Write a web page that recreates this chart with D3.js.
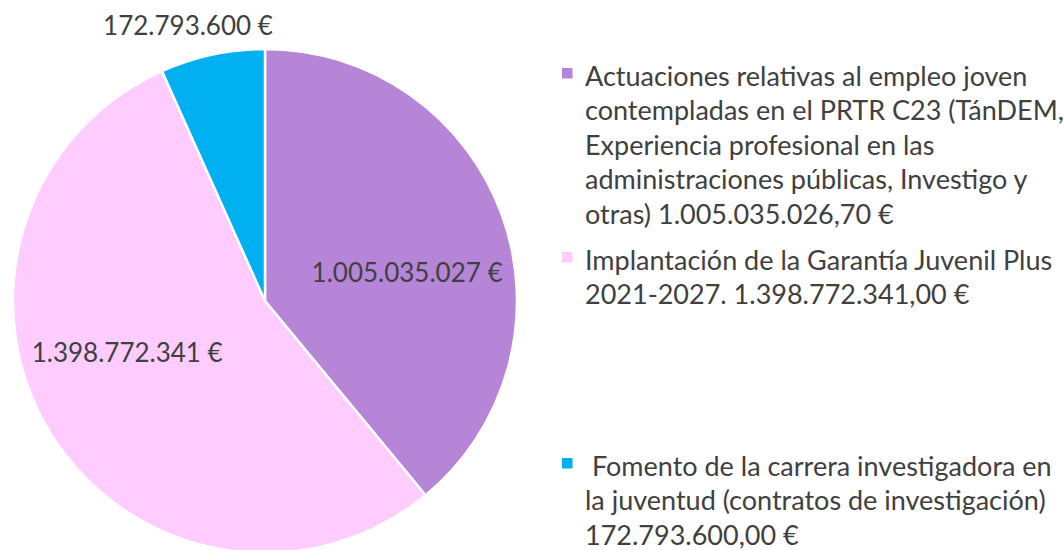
<!DOCTYPE html>
<html>
<head>
<meta charset="utf-8">
<script src="https://cdn.jsdelivr.net/npm/d3@7"></script>
<style>
  body { margin: 0; background: #fff; }
  text { font-family: Lato, "Open Sans", sans-serif; fill: #404040; }
</style>
</head>
<body>
<div id="chart"></div>
<script>
// series
var categories = [
    "Actuaciones relativas al empleo joven contempladas en el PRTR C23 (TánDEM, Experiencia profesional en las administraciones públicas, Investigo y otras)",
    "Implantación de la Garantía Juvenil Plus 2021-2027.",
    "Fomento de la carrera investigadora en la juventud (contratos de investigación)"
];
var values = [1005035026.70, 1398772341.00, 172793600.00];
var colors = ["#B785D8", "#FFCCFF", "#00B0F0"];
var dataLabels = ["1.005.035.027 €", "1.398.772.341 €", "172.793.600 €"];
// legend text, wrapped like the original
var legendLines = [
    ["Actuaciones relativas al empleo joven",
     "contempladas en el PRTR C23 (TánDEM,",
     "Experiencia profesional en las",
     "administraciones públicas, Investigo y",
     "otras) 1.005.035.026,70 €"],
    ["Implantación de la Garantía Juvenil Plus",
     "2021-2027. 1.398.772.341,00 €"],
    [" Fomento de la carrera investigadora en",
     "la juventud (contratos de investigación)",
     "172.793.600,00 €"]
];

var width = 1064, height = 550;
var cx = 265, cy = 301, radius = 252;
var labelFont = 26, legendFont = 27;

var svg = d3.select("#chart").append("svg")
    .attr("width", width)
    .attr("height", height);

var pie = d3.pie().sort(null).value(function (d) { return d; });
var arcs = pie(values);

var arc = d3.arc().innerRadius(0).outerRadius(radius);

var g = svg.append("g").attr("transform", "translate(" + cx + "," + cy + ")");

g.selectAll("path")
    .data(arcs)
    .enter().append("path")
    .attr("d", arc)
    .attr("fill", function (d, i) { return colors[i]; })
    .attr("stroke", "#fff")
    .attr("stroke-width", 2.5)
    .attr("stroke-linejoin", "miter");

// label placement: radius and angle nudge per slice (best fit like the original)
var labelRadius = [145, 147, 287];
var labelShift = [8.3, 11.5, -3.5]; // degrees

g.selectAll("text.lbl")
    .data(arcs)
    .enter().append("text")
    .attr("class", "lbl")
    .attr("text-anchor", "middle")
    .attr("dominant-baseline", "central")
    .attr("font-size", labelFont)
    .attr("x", function (d, i) {
        var a = (d.startAngle + d.endAngle) / 2 + labelShift[i] * Math.PI / 180;
        return Math.sin(a) * labelRadius[i];
    })
    .attr("y", function (d, i) {
        var a = (d.startAngle + d.endAngle) / 2 + labelShift[i] * Math.PI / 180;
        return -Math.cos(a) * labelRadius[i];
    })
    .text(function (d, i) { return dataLabels[i]; });

// legend
var legendX = 562, textX = 585, lineH = 34.5;
var legendTop = [75, 259, 465];

var legend = svg.append("g").attr("class", "legend");
legendLines.forEach(function (lines, i) {
    var item = legend.append("g");
    item.append("rect")
        .attr("x", legendX)
        .attr("y", legendTop[i] - 7)
        .attr("width", 10.5)
        .attr("height", 10.5)
        .attr("fill", colors[i]);
    item.selectAll("text")
        .data(lines)
        .enter().append("text")
        .attr("x", textX)
        .attr("y", function (d, j) { return legendTop[i] + j * lineH; })
        .attr("dominant-baseline", "central")
        .attr("font-size", legendFont)
        .attr("xml:space", "preserve")
        .style("white-space", "pre")
        .text(function (d) { return d; });
});
</script>
</body>
</html>
